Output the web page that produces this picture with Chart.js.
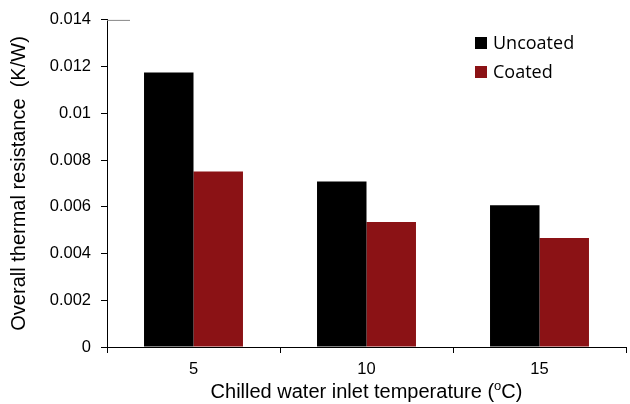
<!DOCTYPE html>
<html>
<head>
<meta charset="utf-8">
<script src="https://cdn.jsdelivr.net/npm/chart.js@4"></script>
<style>
  html, body { margin: 0; padding: 0; background: #fff; }
  #wrap { width: 630px; height: 404px; }
</style>
</head>
<body>
<div id="wrap"><canvas id="chart" width="630" height="404"></canvas></div>
<script>
// data
const temps = ['5', '10', '15']
const uncoated = [0.01175, 0.00708, 0.00607]
const coated = [0.00751, 0.00535, 0.00467]
const yTitle = 'Overall thermal resistance  (K/W)'

const AXIS_FONT = '"Liberation Sans", Arial, sans-serif'

// legend in the top right corner, drawn by hand
const legendBox = {
  id: 'legendBox',
  afterDraw(chart) {
    const ctx = chart.ctx
    ctx.save()
    ctx.font = '18px "Open Sans", Lato, sans-serif'
    ctx.textBaseline = 'middle'
    chart.data.datasets.forEach((ds, i) => {
      const y = 43 + i * 29
      ctx.fillStyle = ds.backgroundColor
      ctx.fillRect(475, y - 6, 12, 12)
      ctx.fillStyle = '#000'
      ctx.fillText(ds.label, 493, y + 1)
    })
    ctx.restore()
  }
}

// axis titles (x title has a superscript o)
const titles = {
  id: 'titles',
  afterDraw(chart) {
    const ctx = chart.ctx
    const area = chart.chartArea
    const big = '20px ' + AXIS_FONT
    const small = '13px ' + AXIS_FONT
    ctx.save()
    ctx.fillStyle = '#000'
    ctx.textBaseline = 'alphabetic'
    const a = 'Chilled water inlet temperature ('
    const b = 'C)'
    ctx.font = big
    const wa = ctx.measureText(a).width
    const wb = ctx.measureText(b).width
    ctx.font = small
    const wo = ctx.measureText('o').width
    const x = (area.left + area.right) / 2 - (wa + wo + wb) / 2
    const base = 398
    ctx.font = big
    ctx.fillText(a, x, base)
    ctx.font = small
    ctx.fillText('o', x + wa, base - 8)
    ctx.font = big
    ctx.fillText(b, x + wa + wo, base)

    ctx.translate(19, (area.top + area.bottom) / 2)
    ctx.rotate(-Math.PI / 2)
    ctx.textAlign = 'center'
    ctx.textBaseline = 'middle'
    ctx.fillText(yTitle, 0, 0)
    ctx.restore()

    // small grey stub at the top of the y axis
    ctx.save()
    ctx.strokeStyle = '#888'
    ctx.lineWidth = 1
    ctx.beginPath()
    ctx.moveTo(area.left, area.top + 0.5)
    ctx.lineTo(area.left + 23, area.top + 0.5)
    ctx.stroke()
    ctx.restore()
  }
}

const ctx = document.getElementById('chart').getContext('2d')
new Chart(ctx, {
  type: 'bar',
  data: {
    labels: temps,
    datasets: [
      { label: 'Uncoated', data: uncoated, backgroundColor: '#000000' },
      { label: 'Coated', data: coated, backgroundColor: '#8b1215' }
    ]
  },
  options: {
    responsive: false,
    animation: false,
    layout: { padding: { left: 0, right: 4, top: 17, bottom: 0 } },
    categoryPercentage: 0.572,
    barPercentage: 1.0,
    plugins: {
      legend: { display: false },
      tooltip: { enabled: false }
    },
    scales: {
      x: {
        offset: true,
        grid: {
          display: true, drawOnChartArea: false, offset: true,
          tickLength: 6, color: '#000', lineWidth: 1
        },
        border: { color: '#000', width: 1 },
        ticks: { color: '#000', font: { family: AXIS_FONT, size: 16.5 }, padding: 7 },
        afterFit(scale) { scale.height = 57 }
      },
      y: {
        min: 0,
        max: 0.014,
        ticks: {
          stepSize: 0.002,
          color: '#000',
          font: { family: AXIS_FONT, size: 16.5 },
          padding: 10,
          callback: v => String(parseFloat(v.toFixed(3)))
        },
        grid: {
          display: true, drawOnChartArea: false,
          tickLength: 6, color: '#000', lineWidth: 1
        },
        border: { color: '#000', width: 1 },
        afterFit(scale) { scale.width = 107 }
      }
    }
  },
  plugins: [legendBox, titles]
})
</script>
</body>
</html>
